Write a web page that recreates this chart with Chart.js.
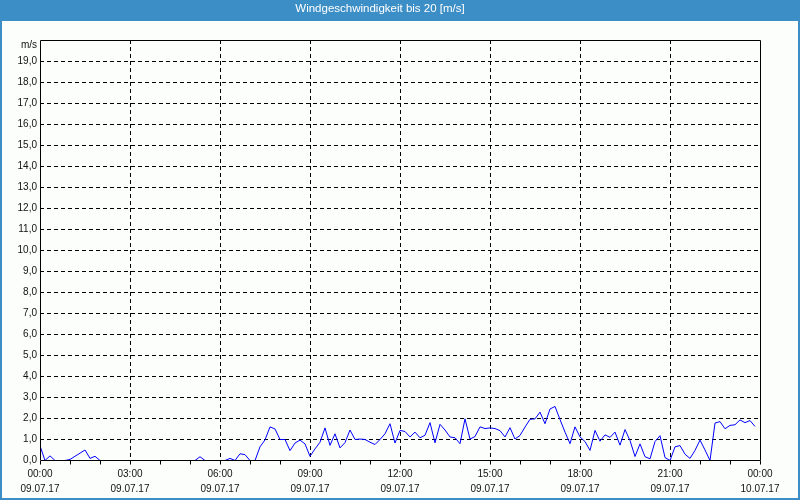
<!DOCTYPE html>
<html>
<head>
<meta charset="utf-8">
<script src="https://cdn.jsdelivr.net/npm/chart.js@4/dist/chart.umd.min.js"></script>
<style>
  html, body { margin: 0; padding: 0; background: #fcfefc; }
  #wrap { width: 800px; height: 500px; position: relative; }
</style>
</head>
<body>
<div id="wrap"><canvas id="c" width="800" height="500"></canvas></div>
<script>
// ---- data (10-minute wind speed readings, 09.07.17 00:00 .. 23:50) ----
const chartTitle = 'Windgeschwindigkeit bis 20 [m/s]';
const unitLabel = 'm/s';
const windSpeed = [
  0.7, 0, 0.22, 0, 0, 0, 0.05, 0.2, 0.35, 0.5, 0.1, 0.2,
  0, 0, 0, 0, 0, 0, 0, 0, 0, 0, 0, 0,
  0, 0, 0, 0, 0, 0, 0, 0, 0.18, 0, 0, 0,
  0, 0, 0.1, 0, 0.32, 0.28, 0, 0, 0.65, 0.98, 1.6, 1.5,
  1.0, 1.0, 0.47, 0.83, 0.97, 0.79, 0.2, 0.55, 0.87, 1.55, 0.72, 1.27,
  0.6, 0.85, 1.45, 1.0, 1.02, 1.0, 0.87, 0.76, 1.0, 1.27, 1.75, 0.83,
  1.43, 1.38, 1.12, 1.35, 1.08, 1.2, 1.8, 0.84, 1.72, 1.45, 1.12, 1.08,
  0.8, 1.98, 1.02, 1.14, 1.6, 1.52, 1.55, 1.52, 1.42, 1.12, 1.56, 1.02,
  1.19, 1.59, 1.96, 1.98, 2.3, 1.75, 2.45, 2.57, 1.95, 1.35, 0.8, 1.6,
  1.12, 0.9, 0.48, 1.43, 0.92, 1.22, 1.1, 1.35, 0.73, 1.47, 0.95, 0.19,
  0.79, 0.18, 0.08, 0.9, 1.18, 0.14, 0, 0.65, 0.71, 0.3, 0.1, 0.48,
  0.97, 0.5, 0, 1.78, 1.85, 1.51, 1.67, 1.7, 1.93, 1.8, 1.9, 1.62
];
const sampleMinutes = windSpeed.map((_, i) => i * 10); // sample times in minutes since 00:00
const tickTimes = ['00:00', '03:00', '06:00', '09:00', '12:00', '15:00', '18:00', '21:00', '00:00'];
const tickDates = ['09.07.17', '09.07.17', '09.07.17', '09.07.17', '09.07.17', '09.07.17', '09.07.17', '09.07.17', '10.07.17'];

const FONT = "'Liberation Sans', Arial, sans-serif";
const BLUE = '#3c8ec6';

const framePlugin = {
  id: 'frame',
  beforeDraw(chart) {
    const ctx = chart.ctx;
    ctx.save();
    ctx.fillStyle = '#fcfefc';
    ctx.fillRect(0, 0, chart.width, chart.height);
    ctx.fillStyle = BLUE;
    ctx.fillRect(0, 0, chart.width, 21);
    ctx.strokeStyle = BLUE;
    ctx.lineWidth = 2;
    ctx.strokeRect(1, 1, chart.width - 2, chart.height - 2);
    ctx.restore();
  },
  afterDatasetsDraw(chart) {
    const a = chart.chartArea;
    const ctx = chart.ctx;
    ctx.save();
    ctx.strokeStyle = '#000';
    ctx.lineWidth = 1;
    const l = Math.round(a.left) + 0.5, t = Math.round(a.top) + 0.5;
    const r = Math.round(a.right) + 0.5, b = a.bottom;
    ctx.beginPath();
    ctx.moveTo(l, t); ctx.lineTo(r, t); ctx.lineTo(r, b); ctx.lineTo(l, b); ctx.closePath();
    ctx.stroke();
    // unit label above the y axis
    ctx.fillStyle = '#111';
    ctx.font = '10px ' + FONT;
    ctx.textAlign = 'right';
    ctx.textBaseline = 'middle';
    ctx.fillText(unitLabel, a.left - 3, a.top + 5);
    ctx.restore();
  }
};

new Chart(document.getElementById('c'), {
  type: 'line',
  data: {
    datasets: [{
      data: windSpeed.map((v, i) => ({ x: sampleMinutes[i], y: v })),
      borderColor: '#0000ff',
      borderWidth: 1,
      pointRadius: 0,
      tension: 0,
      fill: false
    }]
  },
  options: {
    responsive: false,
    animation: false,
    layout: { padding: { top: 0, left: 0, right: 40, bottom: 0 } },
    plugins: {
      legend: { display: false },
      tooltip: { enabled: false },
      title: {
        display: true,
        text: chartTitle,
        color: '#ffffff',
        font: { family: FONT, size: 11.5, weight: 'normal', lineHeight: '14px' },
        padding: { top: 2, bottom: 24 }
      }
    },
    scales: {
      x: {
        type: 'linear',
        min: 0,
        max: 1440,
        afterFit(s) { s.height = 39.5; s.paddingLeft = 0; s.paddingRight = 0; },
        afterBuildTicks(s) {
          s.ticks = [];
          for (let m = 0; m <= 1440; m += 60) s.ticks.push({ value: m });
        },
        ticks: {
          autoSkip: false,
          maxRotation: 0,
          padding: 2,
          color: '#111',
          font: { family: FONT, size: 10, lineHeight: '15px' },
          callback(v) {
            if (v % 180 !== 0) return '';
            const k = v / 180;
            return [tickTimes[k], tickDates[k]];
          }
        },
        grid: {
          color(ctx) {
            const v = ctx.tick && ctx.tick.value;
            return (v % 180 === 0 && v !== 0 && v !== 1440) ? '#000' : 'rgba(0,0,0,0)';
          },
          lineWidth: 1,
          drawTicks: true,
          tickLength: 4,
          tickColor: '#000'
        },
        border: { display: false, dash: [4, 3] }
      },
      y: {
        min: 0,
        max: 20,
        afterFit(s) { s.width = 40; s.paddingTop = 0; s.paddingBottom = 0; },
        ticks: {
          stepSize: 1,
          padding: 3,
          color: '#111',
          font: { family: FONT, size: 10 },
          callback(v) { return v >= 20 ? '' : v.toFixed(1).replace('.', ','); }
        },
        grid: {
          color(ctx) {
            const v = ctx.tick && ctx.tick.value;
            return (v > 0 && v < 20) ? '#000' : 'rgba(0,0,0,0)';
          },
          lineWidth: 1,
          drawTicks: false
        },
        border: { display: false, dash: [4, 3] }
      }
    }
  },
  plugins: [framePlugin]
});
</script>
</body>
</html>
